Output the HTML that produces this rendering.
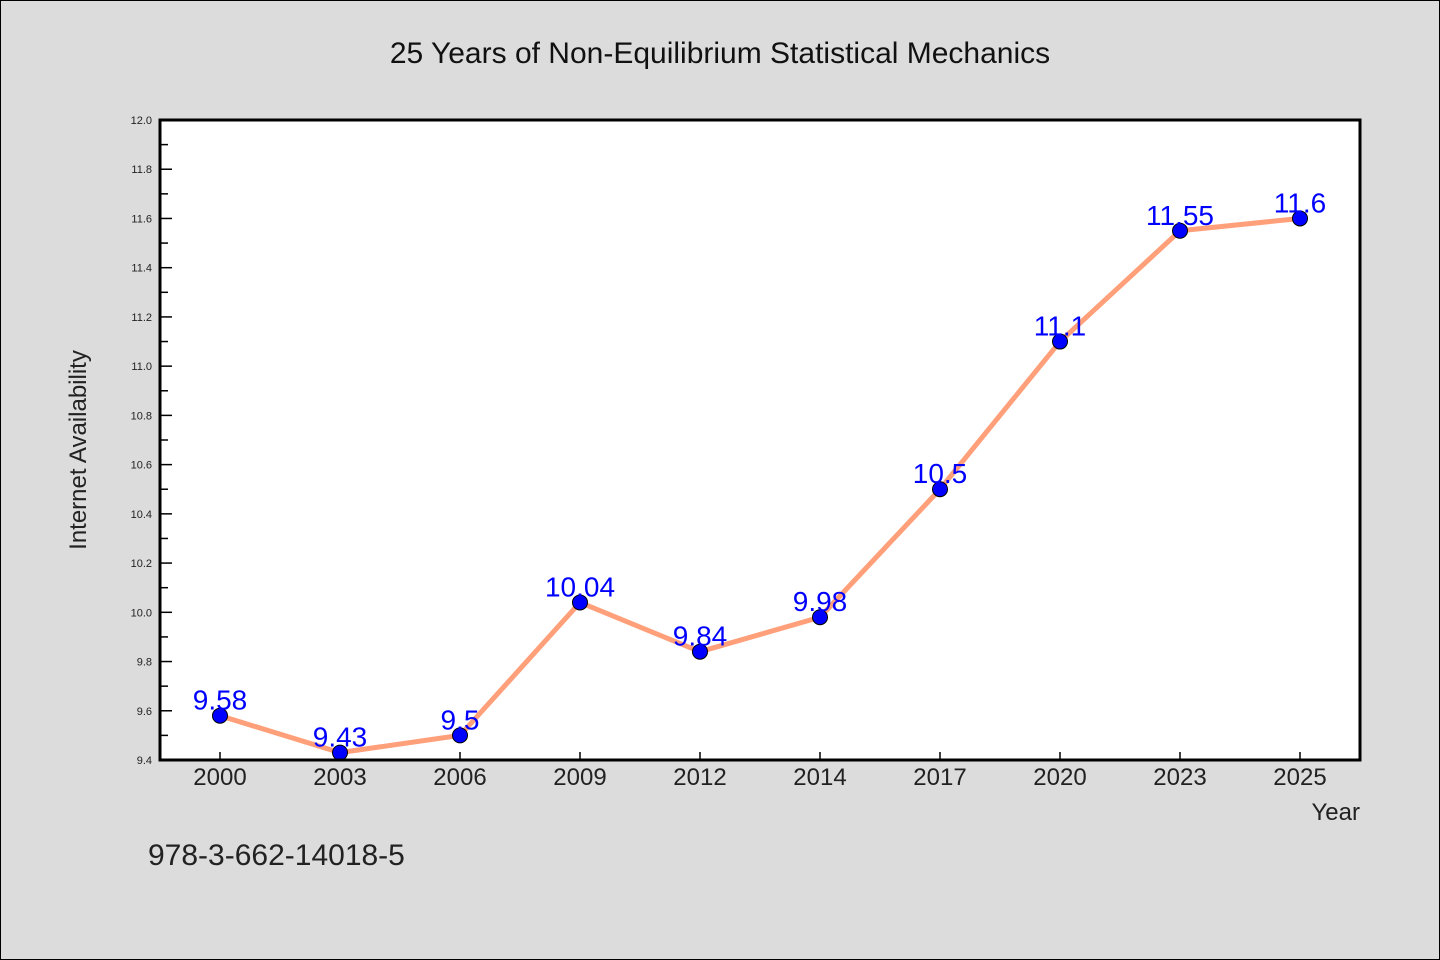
<!DOCTYPE html>
<html><head><meta charset="utf-8"><style>
html,body{margin:0;padding:0;background:#dcdcdc;}
svg{display:block;font-family:"WenQuanYi Zen Hei","Liberation Sans",sans-serif;}
</style></head><body>
<svg id="chart" width="1440" height="960" viewBox="0 0 1440 960">
<rect x="0.5" y="0.5" width="1439" height="959" fill="#dcdcdc" stroke="#000"/>
<text x="720" y="63" text-anchor="middle" font-size="30" fill="#111">25 Years of Non-Equilibrium Statistical Mechanics</text>
<rect x="160" y="120" width="1200" height="640" fill="#fff"/>
<g id="axes"></g>
<g id="series"></g>
<rect x="160" y="120" width="1200" height="640" fill="none" stroke="#000" stroke-width="3"/>
<text x="86" y="450" text-anchor="middle" font-size="24" fill="#222" transform="rotate(-90 86 450)">Internet Availability</text>
<text x="1360" y="820" text-anchor="end" font-size="24" fill="#222">Year</text>
<text x="148" y="865" font-size="30" fill="#222">978-3-662-14018-5</text>
</svg>
<script>
const categories = ["2000","2003","2006","2009","2012","2014","2017","2020","2023","2025"];
const values = [9.58,9.43,9.5,10.04,9.84,9.98,10.5,11.1,11.55,11.6];
const valueLabels = ["9.58","9.43","9.5","10.04","9.84","9.98","10.5","11.1","11.55","11.6"];
const yTicks = ["9.4","9.6","9.8","10.0","10.2","10.4","10.6","10.8","11.0","11.2","11.4","11.6","11.8","12.0"];
const yMin = 9.4, yMax = 12.0;
const L=160,R=1360,T=120,B=760;
const NS="http://www.w3.org/2000/svg";
function xs(i){return L+(R-L)/categories.length*(i+0.5);}
function ys(v){return B-(v-yMin)/(yMax-yMin)*(B-T);}
function mk(tag,attrs,parent,txt){const e=document.createElementNS(NS,tag);for(const k in attrs)e.setAttribute(k,attrs[k]);if(txt!==undefined)e.textContent=txt;parent.appendChild(e);return e;}
const axes=document.getElementById('axes'), series=document.getElementById('series');
yTicks.forEach((t,i)=>{
  const v=parseFloat(t), y=ys(v);
  const tk=mk('line',{x1:L,x2:L+12,y1:y,y2:y,stroke:'#000','stroke-width':1.5},axes);
  
  
  const lb=mk('text',{x:L-8,y:y+4,'text-anchor':'end','font-size':11,fill:'#222'},axes,t);
  
  
  if(i<yTicks.length-1){
    const ym=ys(v+0.1);
    const mt=mk('line',{x1:L,x2:L+8,y1:ym,y2:ym,stroke:'#000','stroke-width':1.5},axes);
    
    
  }
});
categories.forEach((c,i)=>{
  const x=xs(i);
  const tk=mk('line',{x1:x,x2:x,y1:B,y2:B-8,stroke:'#000','stroke-width':1.5},axes);
  
  
  const lb=mk('text',{x:x,y:B+25,'text-anchor':'middle','font-size':24,fill:'#222'},axes,c);
  
  
});
const pts=values.map((v,i)=>xs(i)+','+ys(v)).join(' ');
const line=mk('polyline',{points:pts,fill:'none',stroke:'#ffa07a','stroke-width':5,'stroke-linejoin':'round'},series);


values.forEach((v,i)=>{
  const p=mk('circle',{cx:xs(i),cy:ys(v),r:7.5,fill:'#0000ff',stroke:'#000','stroke-width':1},series);
  
  
});
values.forEach((v,i)=>{
  const t=mk('text',{x:xs(i),y:ys(v)-6,'text-anchor':'middle','font-size':28,fill:'#0000ff'},series,valueLabels[i]);
  
  
});
</script>
</body></html>
